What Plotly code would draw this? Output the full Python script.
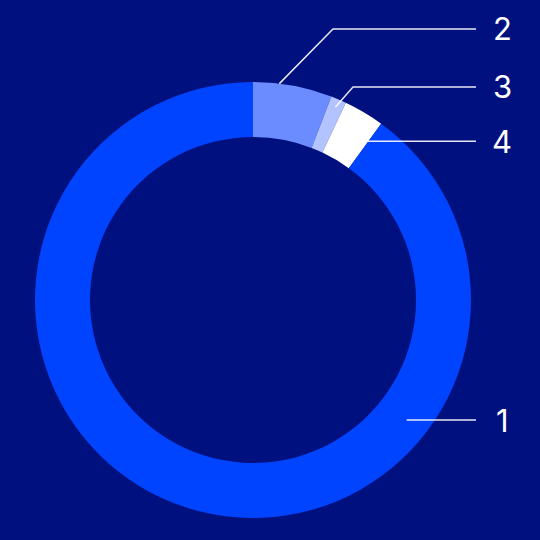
import math
import plotly.graph_objects as go

# slices go clockwise from 12 o'clock
labels = ["2", "3", "4", "1"]
values = [5.85, 1.15, 3.0, 90.0]
colors = ["#6b8cff", "#b3c3ff", "#ffffff", "#0044ff"]

W = H = 540
cx, cy, r_out, r_in = 253, 300, 218, 163

fig = go.Figure(go.Pie(
    labels=labels,
    values=values,
    sort=False,
    direction="clockwise",
    rotation=0,
    hole=r_in / r_out,
    marker=dict(colors=colors, line=dict(width=0)),
    textinfo="none",
    hoverinfo="label+percent",
    domain=dict(x=[(cx - r_out) / W, (cx + r_out) / W],
                y=[1 - (cy + r_out) / H, 1 - (cy - r_out) / H]),
    showlegend=False,
))

# where each leader line touches its slice: (fraction into slice, radius, elbow)
leader = {
    "2": (0.33, 218, (333, 29)),
    "3": (0.5, 210, (353, 87)),
    "4": (0.99, 196, None),
    "1": (0.284, 195, None),
}
line_end_x = 476
label_x = 502

total = sum(values)
start = 0.0
shapes, annotations = [], []
for lab, v in zip(labels, values):
    span = v / total * 360
    frac, rad, elbow = leader[lab]
    ang = math.radians(start + frac * span)
    x0 = cx + rad * math.sin(ang)
    y0 = cy - rad * math.cos(ang)
    start += span
    pts = [(x0, y0)]
    if elbow:
        pts.append(elbow)
    y_lab = pts[-1][1]
    pts.append((line_end_x, y_lab))
    path = "M " + " L ".join(f"{px / W},{1 - py / H}" for px, py in pts)
    shapes.append(dict(type="path", xref="paper", yref="paper", path=path,
                       line=dict(color="rgba(255,255,255,0.9)", width=1.5)))
    annotations.append(dict(x=label_x / W, y=1 - y_lab / H, xref="paper", yref="paper",
                            text=lab, showarrow=False, xanchor="center", yanchor="middle",
                            font=dict(family="Inter", size=31, color="white")))

fig.update_layout(
    width=W, height=H,
    margin=dict(l=0, r=0, t=0, b=0),
    paper_bgcolor="#00107f",
    plot_bgcolor="#00107f",
    shapes=shapes,
    annotations=annotations,
)

fig.write_html("out.html", config={"displayModeBar": False},
               post_script="document.body.style.margin='0';")
